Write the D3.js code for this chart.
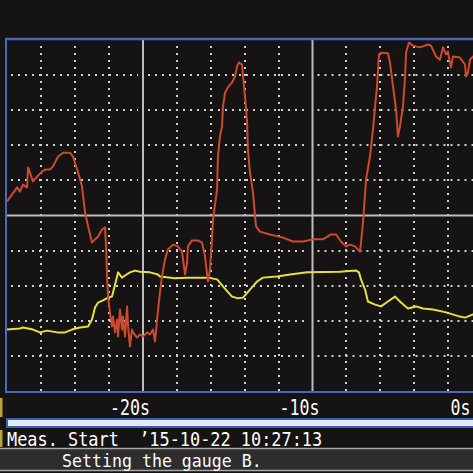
<!DOCTYPE html>
<html lang="en">
<head>
<meta charset="UTF-8">
<title>Recorder trend</title>
<script src="https://d3js.org/d3.v7.min.js"></script>
<style>
  body { margin: 0; background: #151313; }
  svg { display: block; }
</style>
</head>
<body>
<div id="chart"></div>
<script>
// time in seconds, values in screen divisions (-5 .. 5)
const redTime = [-28.02, -27.43, -27.26, -27.08, -26.84, -26.78, -26.49, -26.25, -25.96, -25.78,
  -25.49, -25.31, -25.01, -24.72, -24.31, -24.13, -23.83, -23.60, -23.42, -23.24,
  -23.01, -22.83, -22.65, -22.42, -22.24, -22.18, -22.12, -22.06, -21.95, -21.83,
  -21.77, -21.65, -21.53, -21.47, -21.36, -21.24, -21.18, -21.06, -20.94, -20.88,
  -20.77, -20.65, -20.59, -20.35, -20.18, -20.00, -19.76, -19.59, -19.41, -19.29,
  -19.17, -19.00, -18.88, -18.70, -18.53, -18.23, -17.94, -17.70, -17.64, -17.52,
  -17.40, -17.35, -17.11, -16.76, -16.52, -16.34, -16.22, -16.17, -16.11, -16.05,
  -15.93, -15.87, -15.63, -15.58, -15.46, -15.34, -15.28, -15.16, -14.99, -14.75,
  -14.57, -14.45, -14.34, -14.16, -14.10, -13.98, -13.86, -13.81, -13.69, -13.51,
  -13.39, -13.33, -13.10, -12.51, -11.74, -11.15, -10.56, -9.97, -9.38, -8.91,
  -8.61, -8.32, -8.02, -7.79, -7.49, -7.20, -7.14, -7.02, -6.84, -6.61,
  -6.43, -6.31, -6.19, -6.08, -5.96, -5.55, -5.43, -5.25, -5.07, -4.96,
  -4.84, -4.66, -4.54, -4.48, -4.31, -4.07, -3.66, -3.19, -3.01, -2.71,
  -2.48, -2.30, -2.12, -2.01, -1.89, -1.83, -1.71, -1.30, -1.00, -0.94,
  -0.83, -0.71, -0.53, -0.12];
const redValue = [0.40, 0.80, 0.68, 0.88, 0.80, 1.37, 0.97, 1.11, 1.25, 1.31,
  1.31, 1.40, 1.68, 1.79, 1.79, 1.68, 1.23, 0.83, 0.09, -0.31,
  -0.77, -0.68, -0.60, -0.40, -0.34, -0.88, -1.74, -2.31, -2.76, -3.16,
  -2.88, -3.33, -2.96, -3.45, -2.68, -3.25, -2.88, -3.45, -2.59, -3.16,
  -3.73, -3.25, -3.33, -3.48, -3.39, -3.45, -3.33, -3.39, -3.25, -3.59,
  -2.96, -2.19, -1.74, -1.25, -0.97, -0.83, -0.88, -1.03, -1.25, -1.68,
  -1.34, -0.88, -0.71, -0.71, -0.77, -1.17, -1.68, -1.88, -1.74, -1.54,
  -0.68, -0.11, 0.74, 1.68, 2.25, 2.54, 3.11, 3.50, 3.65, 3.79,
  3.96, 4.25, 4.36, 4.30, 3.96, 3.39, 2.65, 1.88, 1.23, 0.66,
  -0.03, -0.31, -0.46, -0.54, -0.63, -0.74, -0.74, -0.68, -0.68, -0.54,
  -0.54, -0.74, -0.88, -0.83, -0.88, -1.03, -0.77, -0.20, 1.03, 1.68,
  2.45, 3.11, 3.68, 4.59, 4.64, 4.62, 4.36, 3.68, 3.02, 2.25,
  2.54, 3.11, 3.96, 4.64, 4.93, 4.84, 4.79, 4.87, 4.84, 4.53,
  4.44, 4.79, 4.59, 4.67, 4.36, 4.22, 4.53, 4.50, 4.30, 3.96,
  4.07, 4.44, 4.53, 4.59];

const yellowTime = [-28.02, -27.26, -27.08, -26.49, -26.08, -25.66, -25.07, -24.60, -24.19, -23.72,
  -23.24, -23.01, -22.83, -22.65, -22.36, -22.06, -21.83, -21.65, -21.47, -21.24,
  -21.06, -20.77, -20.47, -20.18, -19.59, -19.12, -19.00, -18.11, -17.40, -16.17,
  -15.63, -15.28, -14.75, -14.40, -14.10, -13.69, -13.27, -12.92, -12.09, -11.33,
  -10.32, -8.38, -7.43, -7.26, -7.14, -6.90, -6.73, -6.31, -5.96, -5.55,
  -5.13, -4.78, -4.37, -3.89, -3.48, -2.89, -2.12, -1.30, -1.00, -0.53, -0.12];
const yellowValue = [-3.25, -3.22, -3.19, -3.25, -3.33, -3.28, -3.33, -3.33, -3.25, -3.19,
  -3.16, -2.96, -2.62, -2.48, -2.42, -2.34, -2.31, -1.97, -1.62, -1.77,
  -1.71, -1.62, -1.57, -1.60, -1.62, -1.68, -1.74, -1.79, -1.77, -1.77,
  -1.82, -2.02, -2.31, -2.36, -2.34, -2.11, -1.88, -1.77, -1.74, -1.68,
  -1.62, -1.60, -1.57, -1.62, -1.82, -2.11, -2.45, -2.54, -2.59, -2.45,
  -2.31, -2.48, -2.65, -2.59, -2.65, -2.68, -2.76, -2.88, -2.91, -2.82, -2.82];

const tickSeconds = [-20, -10, 0];
const tickLabels = ['-20s', '-10s', '0s'];
const startText = 'Meas. Start  \u201915-10-22 10:27:13';
const messageText = 'Setting the gauge B.';

const W = 473, H = 473;
const plotTop = 40, plotBottom = 391, plotLeft = 7;
const mono = 'DejaVu Sans Mono, Liberation Mono, monospace';

const svg = d3.select('#chart').append('svg')
  .attr('width', W).attr('height', H);

svg.append('rect').attr('width', W).attr('height', H).attr('fill', '#151313');

const x = d3.scaleLinear().domain([-28, 0]).range([7.4, 482]);
const y = d3.scaleLinear().domain([-5, 5]).range([plotBottom, plotTop]);

svg.append('clipPath').attr('id', 'plot')
  .append('rect').attr('x', plotLeft).attr('y', plotTop)
  .attr('width', W - plotLeft).attr('height', plotBottom - plotTop);

const plot = svg.append('g').attr('clip-path', 'url(#plot)');

// dotted grid
const dotTimes = d3.range(-26, 1, 2).filter(d => d % 10 !== 0);
plot.selectAll('.vdot').data(dotTimes).enter().append('line')
  .attr('x1', d => Math.round(x(d))).attr('x2', d => Math.round(x(d)))
  .attr('y1', plotTop + 6).attr('y2', plotBottom)
  .attr('stroke', '#cfcfcf').attr('stroke-width', 2)
  .attr('stroke-dasharray', '2,5');

const dotLevels = [-4, -3, -2, -1, 1, 2, 3, 4];
const spans = [[plotLeft + 4, x(-20) - 5], [x(-20) + 5, x(-10) - 5], [x(-10) + 5, W]];
dotLevels.forEach(v => {
  spans.forEach(s => {
    plot.append('line')
      .attr('x1', s[0]).attr('x2', s[1])
      .attr('y1', Math.round(y(v))).attr('y2', Math.round(y(v)))
      .attr('stroke', '#cfcfcf').attr('stroke-width', 2)
      .attr('stroke-dasharray', '2,5');
  });
});

// solid grid
plot.selectAll('.vsolid').data([-20, -10]).enter().append('line')
  .attr('x1', d => x(d)).attr('x2', d => x(d))
  .attr('y1', plotTop).attr('y2', plotBottom)
  .attr('stroke', '#bdbdbd').attr('stroke-width', 2);
plot.append('line')
  .attr('x1', plotLeft).attr('x2', W)
  .attr('y1', y(0)).attr('y2', y(0))
  .attr('stroke', '#bdbdbd').attr('stroke-width', 2);

// traces
const line = d3.line().x(d => x(d[0])).y(d => y(d[1]));
plot.append('path')
  .datum(d3.zip(yellowTime, yellowValue))
  .attr('d', line)
  .attr('fill', 'none').attr('stroke', '#e8df3c').attr('stroke-width', 2)
  .attr('stroke-linejoin', 'round');
plot.append('path')
  .datum(d3.zip(redTime, redValue))
  .attr('d', line)
  .attr('fill', 'none').attr('stroke', '#cc4a2e').attr('stroke-width', 2)
  .attr('stroke-linejoin', 'round');

// frame
svg.append('line').attr('x1', plotLeft - 1).attr('x2', W).attr('y1', 39).attr('y2', 39)
  .attr('stroke', '#4a68bd').attr('stroke-width', 2.5);
svg.append('line').attr('x1', plotLeft - 1).attr('x2', plotLeft - 1).attr('y1', 38).attr('y2', 393)
  .attr('stroke', '#4a68bd').attr('stroke-width', 2);
svg.append('line').attr('x1', plotLeft - 1).attr('x2', W).attr('y1', 392).attr('y2', 392)
  .attr('stroke', '#4a68bd').attr('stroke-width', 2);

// time axis labels
const axis = d3.axisBottom(x)
  .tickValues(tickSeconds)
  .tickFormat((d, i) => tickLabels[i])
  .tickSize(0).tickPadding(0);
svg.append('g')
  .attr('transform', 'translate(0,415)')
  .call(axis)
  .call(g => g.select('.domain').remove())
  .call(g => g.selectAll('text')
    .attr('y', 0).attr('dy', 0)
    .attr('x', d => Math.min(x(d) + 6.5, 470) - x(d))
    .attr('text-anchor', 'end')
    .attr('transform', 'scale(1,1.3)')
    .attr('fill', '#ffffff')
    .attr('font-family', mono)
    .attr('font-size', 16.6));

// yellow markers at the left edge
svg.append('rect').attr('x', 0).attr('y', 398).attr('width', 2.5).attr('height', 19).attr('fill', '#b9a23e');
svg.append('rect').attr('x', 0).attr('y', 430).attr('width', 2.5).attr('height', 17).attr('fill', '#b9a23e');

// scroll bar
svg.append('rect').attr('x', 7).attr('y', 419).attr('width', 470).attr('height', 8)
  .attr('fill', '#e2ecf7').attr('stroke', '#3f60b2').attr('stroke-width', 2);

// start info
svg.append('text')
  .attr('transform', 'translate(7,445.5) scale(1,1.1)')
  .attr('fill', '#ffffff').attr('font-family', mono).attr('font-size', 16.9)
  .style('white-space', 'pre')
  .text(startText);

// message band
svg.append('rect').attr('x', 0).attr('y', 448).attr('width', W).attr('height', 23).attr('fill', '#2d2d2d');
svg.append('line').attr('x1', 0).attr('x2', W).attr('y1', 448.5).attr('y2', 448.5)
  .attr('stroke', '#a8a8a8').attr('stroke-width', 1.5);
svg.append('line').attr('x1', 0).attr('x2', W).attr('y1', 470.5).attr('y2', 470.5)
  .attr('stroke', '#a8a8a8').attr('stroke-width', 1.5);
svg.append('text')
  .attr('transform', 'translate(62,466.5) scale(1,1.08)')
  .attr('fill', '#ffffff').attr('font-family', mono).attr('font-size', 16.6)
  .text(messageText);
</script>
</body>
</html>
